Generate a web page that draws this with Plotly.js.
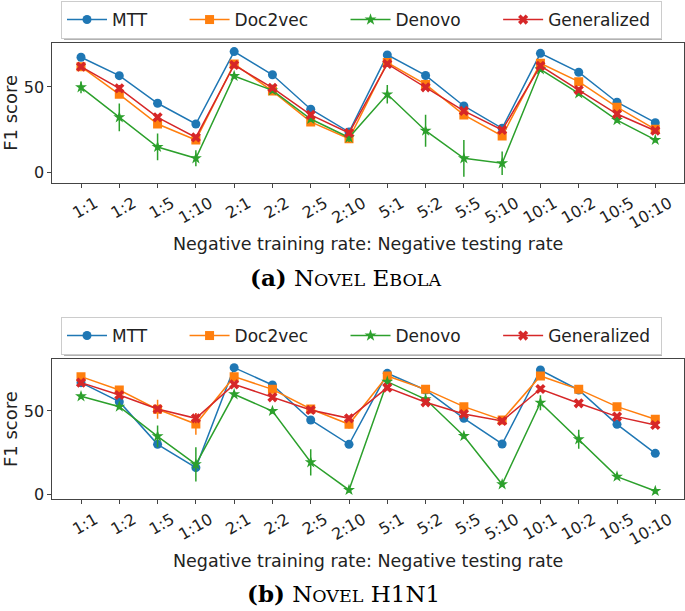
<!DOCTYPE html>
<html>
<head>
<meta charset="utf-8">
<script src="https://cdn.plot.ly/plotly-3.0.1.min.js"></script>
<style>html,body{margin:0;padding:0;background:#fff;}#chart{width:685px;height:611px;}</style>
</head>
<body>
<div id="chart"></div>
<script>
const categories = ["1:1","1:2","1:5","1:10","2:1","2:2","2:5","2:10","5:1","5:2","5:5","5:10","10:1","10:2","10:5","10:10"];
const seriesNames = ["MTT","Doc2vec","Denovo","Generalized"];

// (a) Novel Ebola
const ebolaMTT   = [67.3,56.6,40.5,28.4,70.6,57.1,37.0,23.7,68.7,56.7,38.9,25.9,69.6,58.6,41.1,29.2];
const ebolaDoc   = [61.8,45.7,28.4,19.1,63.4,47.6,29.6,19.8,64.2,51.5,33.7,21.4,63.8,53.1,38.2,25.3];
const ebolaDen   = [49.8,32.3,15.0,8.4,56.4,48.0,31.3,20.5,45.7,24.5,8.4,5.5,60.3,46.3,30.7,19.1];
const ebolaGen   = [61.8,49.2,32.3,20.6,62.8,49.5,33.7,23.2,63.4,49.8,36.0,24.9,62.3,48.2,34.2,24.5];
const ebolaMTTErr = [1,1,1,1,1,1,1,1,1,1,1,1,1,1,1,1];
const ebolaDocErr = [1.5,1.5,1.5,1.5,1.5,1.5,1.5,2,1.5,1.5,1.5,1.5,1.5,1.5,1.5,1.5];
const ebolaDenErr = [3.4,8.1,7.8,4.7,1.5,1.5,1.5,2.6,5.4,9.3,10.7,6.8,1.5,1.5,1.5,1.5];
const ebolaGenErr = [1.5,2,1.5,1.5,1.5,1.5,1.5,1.5,1.5,1.5,1.5,1.5,1.5,1.5,1.5,1.5];

// (b) Novel H1N1
const h1n1MTT   = [67.0,55.6,30.0,16.0,76.0,65.6,44.6,30.0,72.6,62.6,45.6,30.2,74.6,62.6,42.0,24.6];
const h1n1Doc   = [70.6,62.6,51.0,42.2,70.6,63.0,51.2,42.0,71.0,63.0,52.6,44.6,71.0,63.0,52.6,45.0];
const h1n1Den   = [58.8,52.6,34.8,18.0,60.0,50.0,19.2,2.6,67.6,57.0,35.0,6.0,55.0,33.0,10.6,2.0];
const h1n1Gen   = [67.0,59.6,51.2,45.6,66.0,58.2,50.6,45.6,64.0,55.2,48.2,44.0,63.2,54.6,46.6,41.6];
const h1n1MTTErr = [1,1,1,2,1,1,1,1,1,1,1,1,1,1,1,1];
const h1n1DocErr = [1.5,1.5,5.7,6.5,1.5,1.5,2,2.5,1.5,1.5,1.5,1.5,1.5,1.5,1.5,1.5];
const h1n1DenErr = [1.5,1.5,6.5,10.3,1.5,1.5,7.9,1.5,1.5,1.5,1.5,1.5,4.5,5.7,1.5,1.5];
const h1n1GenErr = [1.5,1.5,1.5,3,1.5,1.5,1.5,1.5,1.5,1.5,1.5,1.5,1.5,1.5,1.5,1.5];

const colors = ["#1f77b4","#ff7f0e","#2ca02c","#d62728"];
const symbols = ["circle","square","star","x"];
const sizes = [9,9,9,9];
const PAD = "\u00a0\u00a0\u00a0\u00a0\u00a0\u00a0";

function mk(name, idx, y, err, xa, ya, leg) {
  return {
    type: "scatter", mode: "lines+markers", name: idx < 3 ? name + PAD : name + "\u00a0",
    x: categories, y: y, xaxis: xa, yaxis: ya, legend: leg,
    line: {color: colors[idx], width: 1.5},
    marker: {symbol: symbols[idx], size: sizes[idx], color: colors[idx]},
    error_y: {type: "data", array: err, visible: true, color: colors[idx], thickness: 1.5, width: 0}
  };
}

const data = [
  mk(seriesNames[0],0,ebolaMTT,ebolaMTTErr,"x","y","legend"),
  mk(seriesNames[1],1,ebolaDoc,ebolaDocErr,"x","y","legend"),
  mk(seriesNames[2],2,ebolaDen,ebolaDenErr,"x","y","legend"),
  mk(seriesNames[3],3,ebolaGen,ebolaGenErr,"x","y","legend"),
  mk(seriesNames[0],0,h1n1MTT,h1n1MTTErr,"x2","y2","legend2"),
  mk(seriesNames[1],1,h1n1Doc,h1n1DocErr,"x2","y2","legend2"),
  mk(seriesNames[2],2,h1n1Den,h1n1DenErr,"x2","y2","legend2"),
  mk(seriesNames[3],3,h1n1Gen,h1n1GenErr,"x2","y2","legend2")
];

const W = 685, H = 611;
const font = "DejaVu Sans";
function xax(anchor) {
  return {
    type: "category", range: [-0.75, 15.75], domain: [52.3/W, 684/W], anchor: anchor,
    showgrid: false, zeroline: false, showline: true, mirror: true, linecolor: "#444", linewidth: 1,
    ticks: "outside", ticklen: 4, tickcolor: "#444", tickangle: -30, ticklabelshift: 14,
    tickfont: {family: font, size: 16, color: "#222"},
    title: {text: "Negative training rate: Negative testing rate", font: {family: font, size: 17.5, color: "#222"}, standoff: 6}
  };
}
function yax(anchor, dom, rng) {
  return {
    range: rng, domain: dom, anchor: anchor, tickvals: [0, 50], ticktext: ["0","50"],
    showgrid: false, zeroline: false, showline: true, mirror: true, linecolor: "#444", linewidth: 1,
    ticks: "outside", ticklen: 4, tickcolor: "#444",
    tickfont: {family: font, size: 16, color: "#222"},
    title: {text: "F1 score", font: {family: font, size: 18, color: "#222"}, standoff: 4}
  };
}
function leg(ytop) {
  return {
    orientation: "h", x: 61/W, y: 1 - ytop/H, xanchor: "left", yanchor: "top",
    bgcolor: "#fff", bordercolor: "#ccc", borderwidth: 1, itemwidth: 40,
    font: {family: font, size: 17, color: "#222"}
  };
}
function shadow(ytop) {
  return {type: "rect", xref: "paper", yref: "paper", layer: "below",
    x0: 64/W, x1: 662/W, y0: 1 - (ytop + 39)/H, y1: 1 - (ytop + 3)/H,
    fillcolor: "rgba(0,0,0,0.3)", line: {width: 0}};
}
const capFont = {family: "DejaVu Serif", size: 23, color: "#000"};
const layout = {
  width: W, height: H, margin: {l: 0, r: 0, t: 0, b: 0},
  paper_bgcolor: "#fff", plot_bgcolor: "#fff", showlegend: true,
  xaxis: xax("y"), yaxis: yax("x", [1 - 183/H, 1 - 42.7/H], [-6, 75.8]),
  xaxis2: xax("y2"), yaxis2: yax("x2", [1 - 499.3/H, 1 - 359/H], [-3, 81.2]),
  legend: leg(1), legend2: leg(317),
  shapes: [shadow(1), shadow(317)],
  annotations: [
    {xref: "paper", yref: "paper", x: 345/W, y: 1 - 277/H, xanchor: "center", yanchor: "middle", showarrow: false, font: capFont,
     text: '<b>(a)</b> N<span style="font-size:17.5px">OVEL</span> E<span style="font-size:17.5px">BOLA</span>'},
    {xref: "paper", yref: "paper", x: 343/W, y: 1 - 593/H, xanchor: "center", yanchor: "middle", showarrow: false, font: capFont,
     text: '<b>(b)</b> N<span style="font-size:17.5px">OVEL</span> H1N1'}
  ]
};
Plotly.newPlot("chart", data, layout, {displayModeBar: false, staticPlot: true});
</script>
</body>
</html>
